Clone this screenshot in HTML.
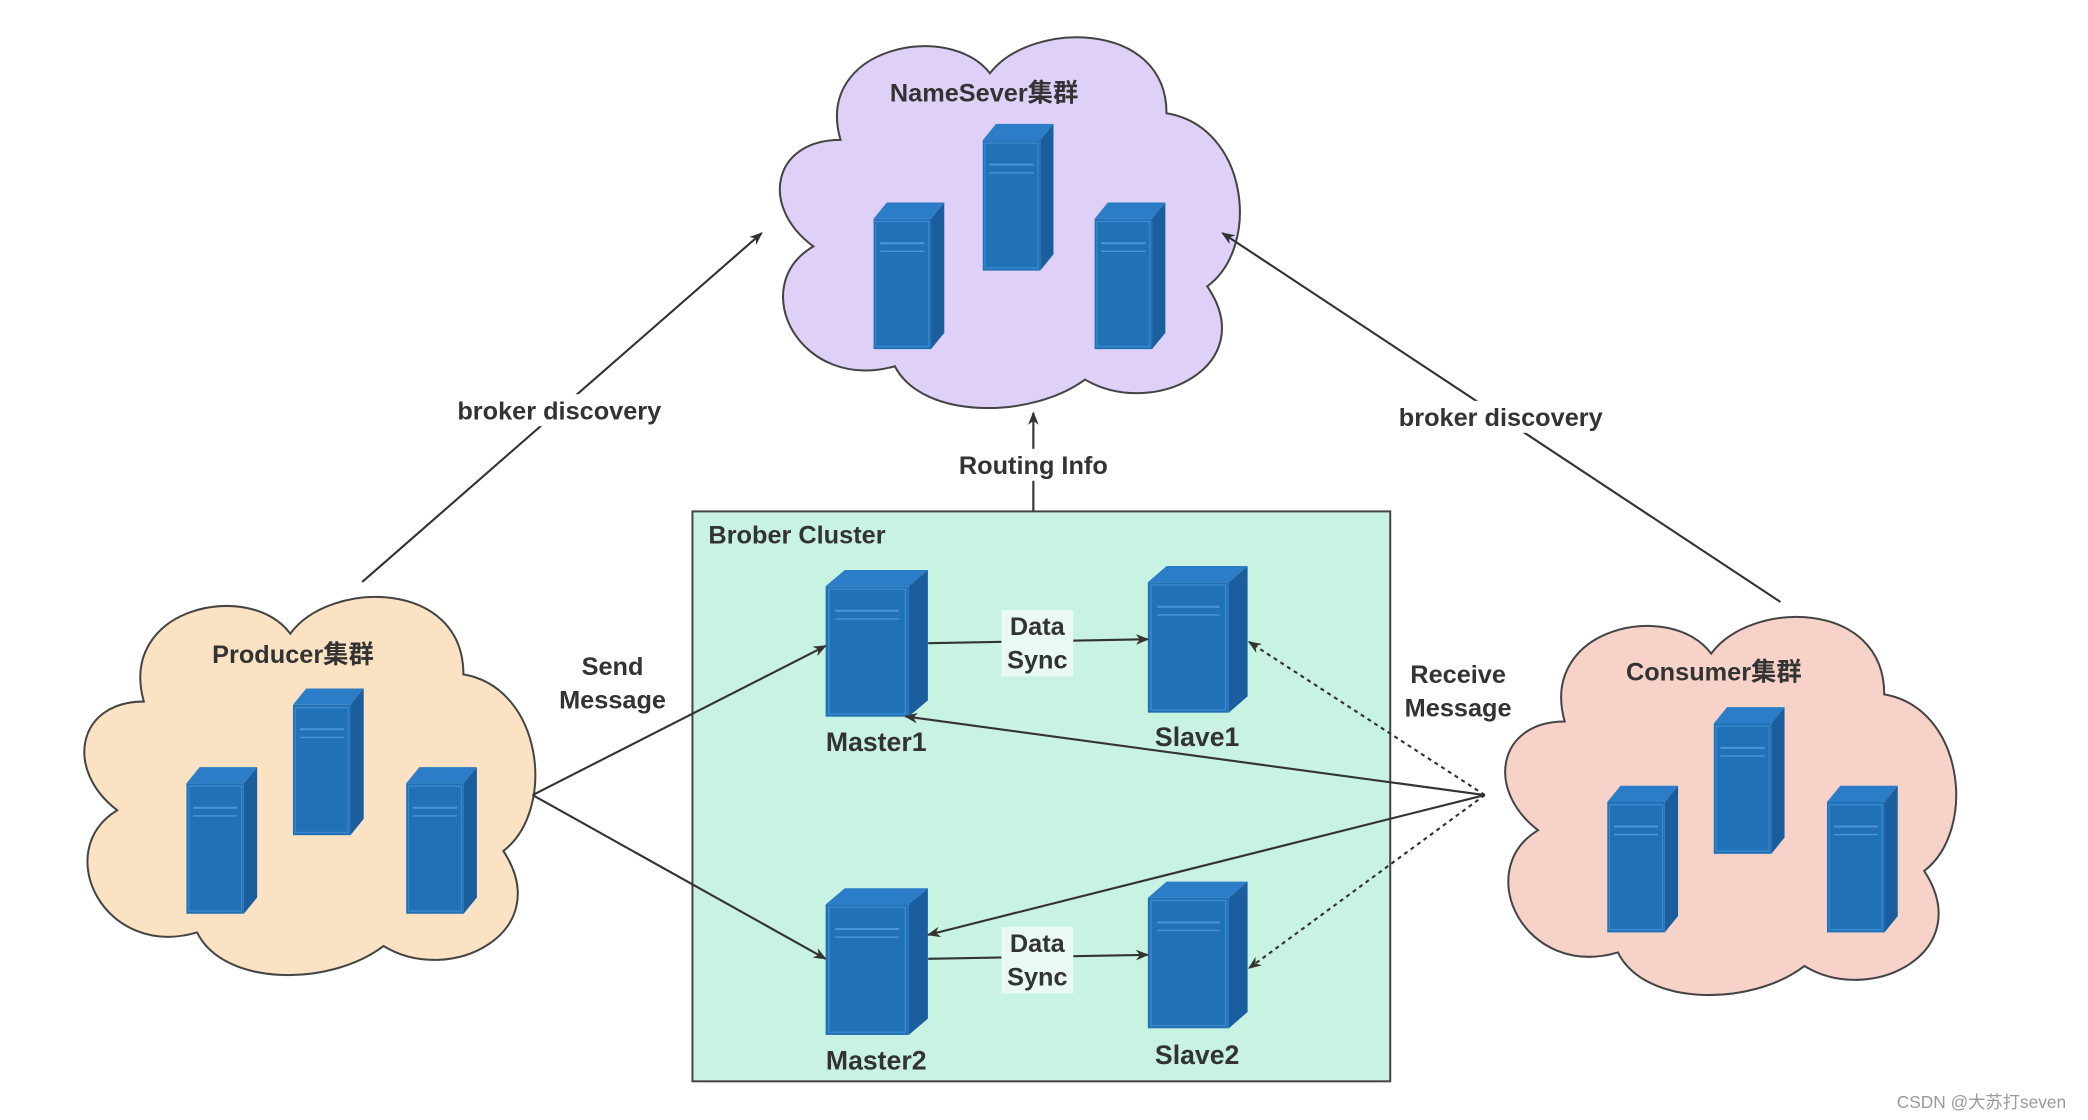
<!DOCTYPE html>
<html><head><meta charset="utf-8"><style>
html,body{margin:0;padding:0;background:#fff;}
svg{display:block}
text{font-family:"Liberation Sans","Noto Sans CJK SC",sans-serif;font-weight:bold;fill:#333;font-size:19px;text-anchor:middle}
</style></head><body>
<svg width="2088" height="1120" viewBox="0 0 1568 841" xmlns="http://www.w3.org/2000/svg">
<defs>
<marker id="ah" markerWidth="10" markerHeight="8" refX="9" refY="4" orient="auto" markerUnits="userSpaceOnUse"><path d="M0,0 L10,4 L0,8 L3,4 Z" fill="#333"/></marker>
<path id="cloud" d="M60,90 C40,20 140,0 170,40 C200,0 300,0 300,70 C360,80 370,170 330,200 C370,260 290,300 240,270 C200,300 120,300 100,260 C30,280 -10,200 40,170 C0,140 10,90 60,90 Z"/>
<g id="srv">
<polygon points="0,12 12,0 64,0 52,12" fill="#2a7dc6"/>
<polygon points="52,12 64,0 64,96 52,108" fill="#1b5e9e"/>
<rect x="0" y="12" width="52" height="96" fill="#2171b6"/>
<rect x="2" y="14" width="48" height="92" fill="none" stroke="#3b8ad0" stroke-width="1"/>
<line x1="6" y1="30" x2="46" y2="30" stroke="#4a95d8" stroke-width="1.5"/>
<line x1="6" y1="36" x2="46" y2="36" stroke="#4a95d8" stroke-width="1"/>
</g>
</defs>
<rect width="1568" height="841" fill="#fff"/>
<!-- clouds -->
<use href="#cloud" transform="translate(570,15) scale(1.02,1)" fill="#dfd0f7" stroke="#444" stroke-width="1.5"/>
<use href="#cloud" transform="translate(48,435) scale(1.0,1.02)" fill="#fbe2c3" stroke="#444" stroke-width="1.5"/>
<use href="#cloud" transform="translate(1115,450) scale(1.0,1.02)" fill="#f6d2c9" stroke="#444" stroke-width="1.5"/>
<!-- broker box -->
<rect x="520" y="384" width="524" height="428" fill="#c8f2e2" stroke="#444" stroke-width="1.5"/>
<!-- servers -->
<use href="#srv" transform="translate(656,152) scale(0.83,1.02)"/>
<use href="#srv" transform="translate(738,93) scale(0.83,1.02)"/>
<use href="#srv" transform="translate(822,152) scale(0.83,1.02)"/>
<use href="#srv" transform="translate(140,576) scale(0.83,1.02)"/>
<use href="#srv" transform="translate(220,517) scale(0.83,1.02)"/>
<use href="#srv" transform="translate(305,576) scale(0.83,1.02)"/>
<use href="#srv" transform="translate(1207,590) scale(0.83,1.02)"/>
<use href="#srv" transform="translate(1287,531) scale(0.83,1.02)"/>
<use href="#srv" transform="translate(1372,590) scale(0.83,1.02)"/>
<use href="#srv" transform="translate(620,428) scale(1.2,1.02)"/>
<use href="#srv" transform="translate(862,425) scale(1.17,1.02)"/>
<use href="#srv" transform="translate(620,667) scale(1.2,1.02)"/>
<use href="#srv" transform="translate(862,662) scale(1.17,1.02)"/>
<!-- connectors -->
<g stroke="#333" stroke-width="1.6" fill="none" marker-end="url(#ah)">
<line x1="272" y1="437" x2="572" y2="175"/>
<line x1="1337" y1="452" x2="918" y2="175"/>
<line x1="776" y1="384" x2="776" y2="310"/>
<line x1="400" y1="597" x2="620" y2="485"/>
<line x1="400" y1="597" x2="620" y2="720"/>
<line x1="1115" y1="597" x2="680" y2="538"/>
<line x1="1115" y1="597" x2="697" y2="702"/>
<line x1="697" y1="483" x2="862" y2="480"/>
<line x1="697" y1="720" x2="862" y2="717"/>
<line x1="1115" y1="597" x2="938" y2="482" stroke-dasharray="3,3"/>
<line x1="1115" y1="597" x2="938" y2="727" stroke-dasharray="3,3"/>
</g>
<!-- label backgrounds -->
<g fill="#fff">
<rect x="332" y="296" width="178" height="24"/>
<rect x="1038" y="301" width="178" height="24"/>
<rect x="708" y="337" width="136" height="24"/>
<rect x="752" y="458" width="54" height="50" fill="#e8faf3"/>
<rect x="752" y="696" width="54" height="50" fill="#e8faf3"/>
<rect x="1050" y="494" width="92" height="50"/>
</g>
<text x="739" y="76">NameSever集群</text>
<text x="220" y="498">Producer集群</text>
<text x="1287" y="511">Consumer集群</text>
<text x="532" y="408" style="text-anchor:start">Brober Cluster</text>
<text x="420" y="315">broker discovery</text>
<text x="1127" y="320">broker discovery</text>
<text x="776" y="356">Routing Info</text>
<text x="460" y="507">Send</text>
<text x="460" y="532">Message</text>
<text x="1095" y="513">Receive</text>
<text x="1095" y="538">Message</text>
<text x="779" y="477">Data</text>
<text x="779" y="502">Sync</text>
<text x="779" y="715">Data</text>
<text x="779" y="740">Sync</text>
<text x="658" y="564" style="font-size:20px">Master1</text>
<text x="899" y="560" style="font-size:20px">Slave1</text>
<text x="658" y="803" style="font-size:20px">Master2</text>
<text x="899" y="799" style="font-size:20px">Slave2</text>
<text x="1488" y="832" style="font-size:13px;font-weight:normal;fill:#999">CSDN @大苏打seven</text>
</svg>
</body></html>
